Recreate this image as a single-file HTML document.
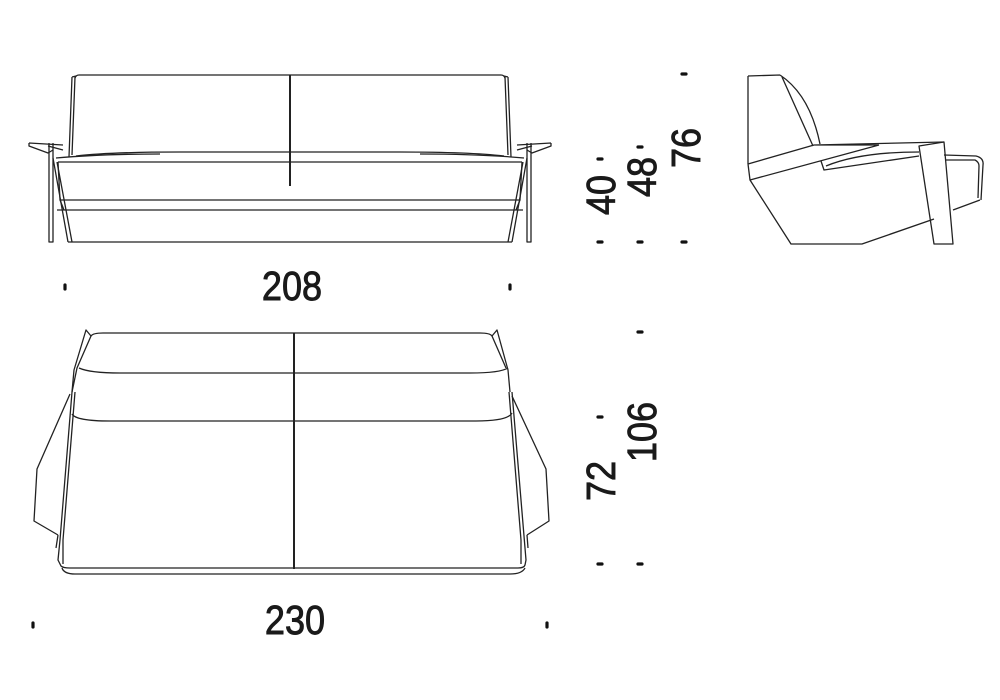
<!DOCTYPE html>
<html><head><meta charset="utf-8"><style>
html,body{margin:0;padding:0;background:#fff;}
svg{display:block}
text{font-family:"Liberation Sans",sans-serif;fill:#1a1a1a;font-size:41px;stroke:#1a1a1a;stroke-width:0.9}
</style></head><body>
<svg width="1000" height="700" viewBox="0 0 1000 700" xmlns="http://www.w3.org/2000/svg">
<g fill="none" stroke="#222" stroke-width="1.3" stroke-linejoin="round">
<!-- FRONT VIEW -->
<g id="fl">
<path d="M79 75 Q76 75 75 78"/>
<path d="M72 77 L69 157 M75 77 L72 155 M72 77 L76 76"/>
<path d="M29 143 L63 145 M29 143 L29 146 L48 153 L53 150 M48 146 L63 150"/>
<path d="M49 143 L49 242 L53 242 L53 143"/>
<path d="M53 158 L68 242 M57 162 L72 242"/>
<path d="M56 158 Q100 154 160 154 M58 162 L60 200 L64 210"/>
</g>
<use href="#fl" transform="translate(580,0) scale(-1,1)"/>
<path d="M79 75 L501 75"/>
<path d="M76 156 Q110 152 180 152 L400 152 Q470 152 504 156"/>
<path d="M58 162 L522 162"/>
<path d="M60 200 L520 200 M57 210 L523 210"/>
<path d="M68 242 L512 242"/>
<path d="M290 75 L290 186" stroke-width="2"/>

<!-- SIDE VIEW -->
<path d="M748 76 L748 164 M748 76 L780 75 M782 77 L813 146 M780 75 Q810 95 820 144"/>
<path d="M748 164 L814 145 L944 142 M748 164 L750 180 L879 145 M814 145 L879 145"/>
<path d="M750 180 L791 244 L862 244 L934 219 M953 210 L980 200"/>
<path d="M821 161 L824 170 L919 156 M826 166 Q860 152 919 152"/>
<path d="M944 155 L976 156 Q984 158 983 165 L981 200 M946 160 L975 160 Q979 162 979 166 L978 198"/>
<path d="M919 146 L944 142 L953 244 L934 244 Z"/>

<!-- PLAN VIEW -->
<path d="M103 333 L480 333 Q490 333 492 336 L497 330 L508 370 L510 392 M103 333 Q93 333 91 336 L86 330 L74 370 L72 392"/>
<path d="M91 336 L77 368 L72 392 M492 336 L506 368"/>
<path d="M79 368 Q90 373 120 373 L470 373 Q500 373 508 368"/>
<path d="M72 414 Q76 421 110 421 L476 421 Q508 421 512 413"/>
<path d="M70 394 L37 469 L34 521 L58 535 M72 392 L60 540 L58 560 L61 566 Q63 568 70 568 L518 568 Q524 568 525 565 L526 560 L512 392"/>
<path d="M75 392 L63 540 L63 564 M509 392 L521 540 L521 564"/>
<path d="M512 396 L546 469 L549 521 L527 535"/>
<path d="M58 535 L56 548 M527 535 L528 548"/>
<path d="M62 568 Q64 574 75 574 L510 574 Q522 574 525 568"/>
<path d="M294 333 L294 569" stroke-width="2"/>
</g>

<!-- dimension dots -->
<g stroke="#111" stroke-width="3.2" stroke-linecap="round">
<path d="M65 285 L65 289 M510 285 L510 289"/>
<path d="M33 623 L33 627 M547 623 L547 627"/>
<path d="M598 159 L602 159 M598 242 L602 242"/>
<path d="M638 147 L642 147 M638 242 L642 242"/>
<path d="M682 74 L686 74 M682 242 L686 242"/>
<path d="M638 332 L642 332 M638 564 L642 564"/>
<path d="M598 417 L602 417 M598 564 L602 564"/>
</g>

<text x="292" y="300" text-anchor="middle" transform="translate(292 0) scale(0.88 1) translate(-292 0)">208</text>
<text x="295" y="634" text-anchor="middle" transform="translate(295 0) scale(0.88 1) translate(-295 0)">230</text>
<g>
<text text-anchor="middle" transform="translate(615 195) rotate(-90) scale(0.88 1)">40</text>
<text text-anchor="middle" transform="translate(656 177) rotate(-90) scale(0.88 1)">48</text>
<text text-anchor="middle" transform="translate(700 148) rotate(-90) scale(0.88 1)">76</text>
<text text-anchor="middle" transform="translate(615 481) rotate(-90) scale(0.88 1)">72</text>
<text text-anchor="middle" transform="translate(656 432) rotate(-90) scale(0.88 1)">106</text>
</g>
</svg>
</body></html>
